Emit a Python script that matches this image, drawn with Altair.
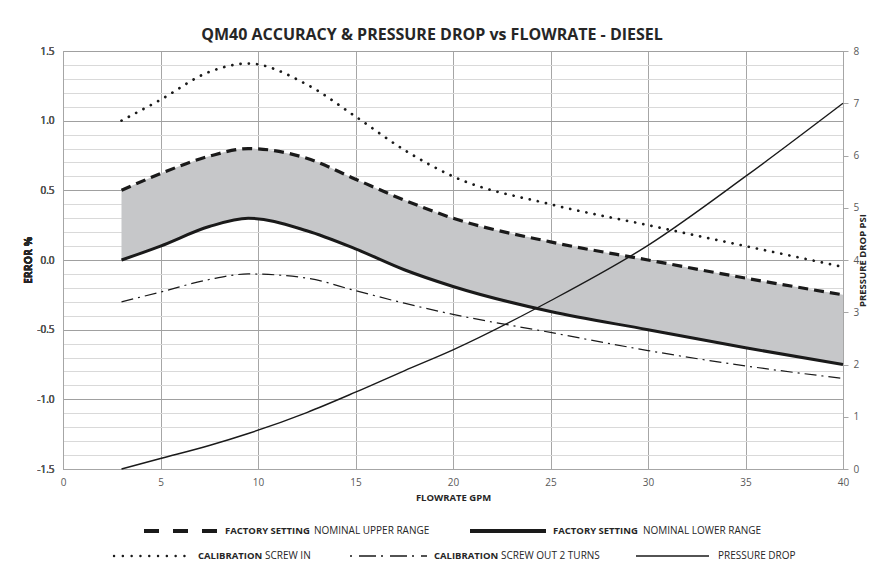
import altair as alt
import pandas as pd

# ---------------- data ----------------
flow = [3, 5, 7.5, 9.5, 12.5, 15, 17.5, 20, 25, 30, 35, 40]
upper = [0.50, 0.62, 0.745, 0.80, 0.73, 0.58, 0.43, 0.30, 0.13, 0.0, -0.13, -0.25]
lower = [0.0, 0.10, 0.24, 0.30, 0.21, 0.08, -0.07, -0.19, -0.37, -0.50, -0.63, -0.75]
screw_in = [1.0, 1.15, 1.35, 1.41, 1.26, 1.03, 0.79, 0.60, 0.40, 0.25, 0.10, -0.05]
screw_out = [-0.30, -0.23, -0.14, -0.10, -0.13, -0.22, -0.31, -0.39, -0.52, -0.65, -0.76, -0.85]
pressure = [0.0, 0.2, 0.45, 0.68, 1.08, 1.47, 1.88, 2.28, 3.22, 4.28, 5.6, 7.0]

x_ticks = [0, 5, 10, 15, 20, 25, 30, 35, 40]
err_ticks = [round(-1.5 + 0.1 * i, 1) for i in range(31)]
psi_ticks = [0, 1, 2, 3, 4, 5, 6, 7, 8]

title_text = "QM40 ACCURACY & PRESSURE DROP vs FLOWRATE - DIESEL"
legend_bold = ["FACTORY SETTING", "FACTORY SETTING", "CALIBRATION", "CALIBRATION", ""]
legend_rest = ["NOMINAL UPPER RANGE", "NOMINAL LOWER RANGE", "SCREW IN", "SCREW OUT 2 TURNS", "PRESSURE DROP"]

df = pd.DataFrame({
    "flow": flow, "upper": upper, "lower": lower,
    "screw_in": screw_in, "screw_out": screw_out, "pressure": pressure,
})
one = pd.DataFrame({"k": [0]})

FONT = "Open Sans"
INK = "#1a1a1a"
GRID = "#a6a6a6"

major_test = "abs(datum.value*2 - round(datum.value*2)) < 0.001"

xenc = alt.X("flow:Q", scale=alt.Scale(domain=[0, 40], nice=False, zero=False),
             axis=alt.Axis(values=x_ticks, title="FLOWRATE GPM", grid=True, gridColor=GRID,
                           ticks=False, domainColor=GRID, labelPadding=8, labelFontSize=10,
                           labelColor="#595959", labelFont=FONT, titleFont=FONT,
                           titleFontSize=9.5, titleFontWeight="bold", titleColor="#262626",
                           titlePadding=5, labelFlush=False))

yscale = alt.Scale(domain=[-1.5, 1.5], nice=False, zero=False)
yaxis = alt.Axis(values=err_ticks, title="ERROR %", grid=True,
                 gridColor={"condition": {"test": major_test, "value": "#a0a0a0"}, "value": "#d9d9d9"},
                 labelExpr=major_test + " ? ((datum.value < 0 ? '-' : '') + format(abs(datum.value), '.1f')) : ''",
                 ticks=False, domainColor=GRID, labelPadding=9, labelFontSize=10,
                 labelColor="#595959", labelFont=FONT, titleFont=FONT, titleFontSize=10.5,
                 titleFontWeight="bold", titleColor="#262626", titlePadding=3, orient="left")


def yfield(name):
    return alt.Y(f"{name}:Q", scale=yscale, axis=yaxis)


base = alt.Chart(df)

band = base.mark_area(color="#c6c7c9", opacity=1, interpolate="monotone").encode(
    x=xenc, y=yfield("upper"), y2="lower:Q")

l_in = base.mark_line(color=INK, strokeWidth=2.7, strokeDash=[0.1, 8.2], strokeCap="round",
                      interpolate="monotone").encode(x=xenc, y=yfield("screw_in"))
l_out = base.mark_line(color=INK, strokeWidth=1.2, strokeDash=[12, 5, 2, 5],
                       interpolate="monotone").encode(x=xenc, y=yfield("screw_out"))
l_up = base.mark_line(color=INK, strokeWidth=3.2, strokeDash=[10, 6],
                      interpolate="monotone").encode(x=xenc, y=yfield("upper"))
l_low = base.mark_line(color=INK, strokeWidth=3, interpolate="monotone").encode(
    x=xenc, y=yfield("lower"))

l_p = base.mark_line(color=INK, strokeWidth=1.4, interpolate="monotone").encode(
    x=xenc,
    y=alt.Y("pressure:Q", scale=alt.Scale(domain=[0, 8], nice=False, zero=False),
            axis=alt.Axis(values=psi_ticks, format="d", title="PRESSURE DROP PSI", orient="right",
                          grid=False, ticks=True, tickSize=5, tickColor=GRID, domainColor=GRID,
                          labelPadding=5, labelFontSize=10, labelColor="#595959", labelFont=FONT,
                          titleFont=FONT, titleFontSize=9.5, titleFontWeight="bold",
                          titleColor="#262626", titleAngle=270, titlePadding=9)))

# ---------------- custom legend (two rows below the plot) ----------------
leg = alt.Chart(one)
R1, R2 = 480, 505


def sym(x1, x2, y, **kw):
    return leg.mark_rule(color=INK, **kw).encode(x=alt.value(x1), x2=alt.value(x2), y=alt.value(y))


def txt(s, x, y, bold):
    return leg.mark_text(text=s, align="left", baseline="middle", font=FONT,
                         fontSize=9.5 if bold else 10,
                         fontWeight="bold" if bold else "normal", color="#262626").encode(
        x=alt.value(x), y=alt.value(y))


legend_layers = [
    sym(81, 158, R1, strokeWidth=4, strokeDash=[15, 14]),
    txt(legend_bold[0], 162, R1, True), txt(legend_rest[0], 251, R1, False),
    sym(407, 483, R1, strokeWidth=4),
    txt(legend_bold[1], 490, R1, True), txt(legend_rest[1], 580, R1, False),
    sym(51, 130, R2, strokeWidth=2.4, strokeDash=[0.1, 8.7], strokeCap="round"),
    txt(legend_bold[2], 135, R2, True), txt(legend_rest[2], 202, R2, False),
    sym(287, 364, R2, strokeWidth=1.5, strokeDash=[2, 7, 17, 5]),
    txt(legend_bold[3], 371, R2, True), txt(legend_rest[3], 438, R2, False),
    sym(573, 646, R2, strokeWidth=1.5),
    txt(legend_rest[4], 655, R2, False),
]

chart = alt.layer(band, l_in, l_out, l_up, l_low, l_p, *legend_layers).resolve_scale(
    y="independent"
).properties(
    width=780, height=418,
    title=alt.TitleParams(text=title_text, font=FONT, fontSize=16, fontWeight="bold",
                          color="#262626", anchor="middle", frame="group", dx=-21, offset=3),
    autosize=alt.AutoSizeParams(type="none"),
    padding={"left": 55, "top": 43, "right": 25, "bottom": 93},
).configure_view(stroke=None)

chart.save("out.html", embed_options={"renderer": "svg", "actions": False})
